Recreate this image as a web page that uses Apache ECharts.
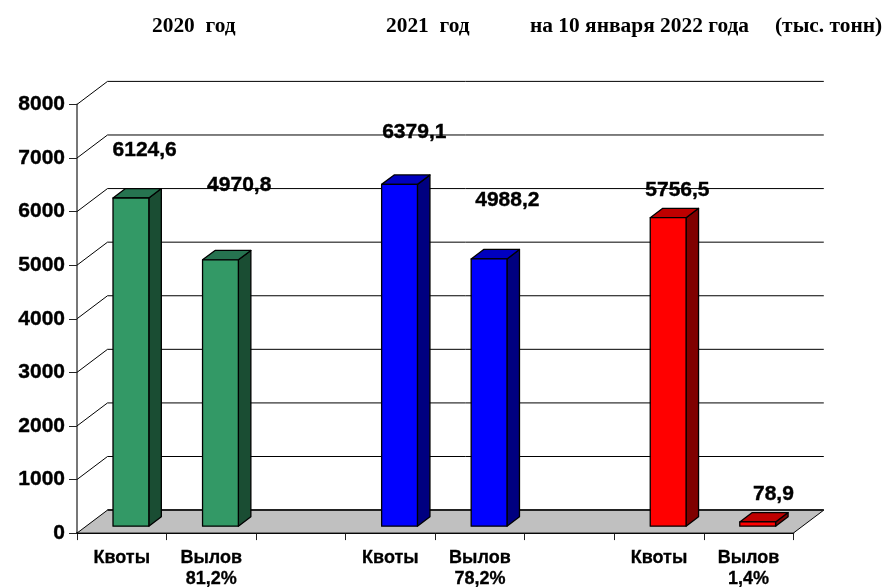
<!DOCTYPE html>
<html>
<head>
<meta charset="utf-8">
<script src="https://cdn.jsdelivr.net/npm/echarts@6/dist/echarts.min.js"></script>
<style>html,body{margin:0;padding:0;background:#fff}#c{width:884px;height:587px}</style>
</head>
<body>
<div id="c"></div>
<script>
const categories = ['Квоты', 'Вылов\n81,2%', '', 'Квоты', 'Вылов\n78,2%', '', 'Квоты', 'Вылов\n1,4%'];
const values = [6124.6, 4970.8, null, 6379.1, 4988.2, null, 5756.5, 78.9];
const yTicks = [0, 1000, 2000, 3000, 4000, 5000, 6000, 7000, 8000];
const headings = ['2020  год', '2021  год', 'на 10 января 2022 года', '(тыс. тонн)'];

// layout and style, kept apart from the values
const headingX = [152, 386, 530, 775];
const faces = [
  ['#339966', '#267350', '#1a4d33'], ['#339966', '#267350', '#1a4d33'], null,
  ['#0000ff', '#0000bf', '#000080'], ['#0000ff', '#0000bf', '#000080'], null,
  ['#ff0000', '#bf0000', '#800000'], ['#ff0000', '#bf0000', '#800000']
];
const labelShift = [[13.75, -47.8], [18.75, -74.6], null, [14.75, -52], [18.25, -58.7], null, [9.25, -27.5], [15.75, -27.8]];
const WALL_X = 30.5, WALL_Y = 23;
const BAR_FRACTION = 0.4, BAR_SHIFT = 0.3, BAR_DEPTH = 0.41;
const SANS = '"Liberation Sans", Arial, sans-serif';
const SERIF = '"Liberation Serif", "Times New Roman", serif';

function wallItem(params, api) {
  const cs = params.coordSys;
  const v = api.value(0);
  const y = api.coord([0, v])[1];
  const x0 = cs.x, x1 = cs.x + cs.width;
  const line = { stroke: '#000', lineWidth: 1, fill: null };
  const children = [];
  if (v === 0) {
    children.push({
      type: 'polygon',
      shape: { points: [[x0, y], [x0 + WALL_X, y - WALL_Y], [x1 + WALL_X, y - WALL_Y], [x1, y]] },
      style: { fill: '#c0c0c0', stroke: '#000', lineWidth: 1 }
    });
    children.push({
      type: 'line',
      shape: { x1: x0 + WALL_X, y1: y - WALL_Y, x2: x1 + WALL_X, y2: y - WALL_Y },
      style: { stroke: '#222', lineWidth: 2 }
    });
  } else {
    children.push({
      type: 'polyline',
      shape: { points: [[x0, y], [x0 + WALL_X, y - WALL_Y], [x1 + WALL_X, y - WALL_Y]] },
      style: line
    });
  }
  return { type: 'group', children };
}

function barItem(params, api) {
  const i = api.value(0);
  const v = api.value(1);
  if (values[i] == null) return;
  const base = api.coord([i, 0]);
  const top = api.coord([i, v]);
  const w = api.size([1, 0])[0] * BAR_FRACTION;
  const sx = WALL_X * BAR_SHIFT, sy = WALL_Y * BAR_SHIFT;
  const dx = WALL_X * BAR_DEPTH, dy = WALL_Y * BAR_DEPTH;
  const cx = base[0] + sx;
  const l = cx - w / 2, r = cx + w / 2;
  const b = base[1] - sy, t = top[1] - sy;
  const c = faces[i];
  const stroke = { stroke: '#000', lineWidth: 1.3, lineJoin: 'round' };
  return {
    type: 'group',
    children: [
      { type: 'polygon', shape: { points: [[r, b], [r + dx, b - dy], [r + dx, t - dy], [r, t]] }, style: { fill: c[2], ...stroke } },
      { type: 'polygon', shape: { points: [[l, t], [r, t], [r + dx, t - dy], [l + dx, t - dy]] }, style: { fill: c[1], ...stroke } },
      { type: 'polygon', shape: { points: [[l, b], [r, b], [r, t], [l, t]] }, style: { fill: c[0], ...stroke } }
    ]
  };
}

function labelItem(params, api) {
  const i = api.value(0);
  const v = api.value(1);
  if (values[i] == null) return;
  const base = api.coord([i, 0]);
  const top = api.coord([i, v]);
  const shift = labelShift[i];
  return {
    type: 'text',
    z2: 100,
    style: {
      x: base[0] + WALL_X * BAR_SHIFT + shift[0],
      y: top[1] - WALL_Y * BAR_SHIFT + shift[1],
      text: v.toFixed(1).replace('.', ','),
      align: 'center', verticalAlign: 'middle',
      font: 'bold 21px ' + SANS,
      fill: '#000', stroke: '#000', lineWidth: 0.4
    }
  };
}

const chart = echarts.init(document.getElementById('c'), null, { renderer: 'canvas' });
const rows = values.map((v, i) => [i, v]).filter(r => r[1] != null);

chart.setOption({
  animation: false,
  backgroundColor: '#fff',
  title: headings.map((t, i) => ({
    text: t, left: headingX[i], top: 16, padding: 0,
    textStyle: { fontFamily: SERIF, fontWeight: 'bold', fontSize: 21.4, color: '#000' }
  })),
  grid: { left: 77, right: 90.7, top: 104.4, bottom: 53.9, containLabel: false, outerBoundsMode: 'none' },
  xAxis: {
    type: 'category',
    data: categories,
    boundaryGap: true,
    axisLine: { show: true, lineStyle: { color: '#111', width: 2 } },
    axisTick: { show: true, length: 7, alignWithLabel: false, interval: 0, lineStyle: { color: '#222', width: 1 } },
    axisLabel: {
      interval: 0, margin: 14, lineHeight: 21.5,
      fontFamily: SANS, fontWeight: 'bold', fontSize: 18, color: '#000',
      textBorderColor: '#000', textBorderWidth: 0.3
    },
    splitLine: { show: false }
  },
  yAxis: {
    type: 'value',
    min: 0, max: 8000, interval: 1000,
    axisLine: { show: true, lineStyle: { color: '#777', width: 2 } },
    axisTick: { show: true, length: 8, lineStyle: { color: '#222', width: 1 } },
    axisLabel: {
      margin: 12, formatter: v => String(v),
      fontFamily: SANS, fontWeight: 'bold', fontSize: 21, color: '#000',
      textBorderColor: '#000', textBorderWidth: 0.4
    },
    splitLine: { show: false }
  },
  series: [
    {
      type: 'custom', silent: true, z: 1, clip: false,
      coordinateSystem: 'cartesian2d',
      renderItem: wallItem,
      encode: { y: 0 },
      data: yTicks.map(v => [v])
    },
    {
      type: 'custom', silent: true, z: 3, clip: false,
      coordinateSystem: 'cartesian2d',
      renderItem: barItem,
      encode: { x: 0, y: 1 },
      data: rows
    },
    {
      type: 'custom', silent: true, z: 4, clip: false,
      coordinateSystem: 'cartesian2d',
      renderItem: labelItem,
      encode: { x: 0, y: 1 },
      data: rows
    }
  ]
});
</script>
</body>
</html>
